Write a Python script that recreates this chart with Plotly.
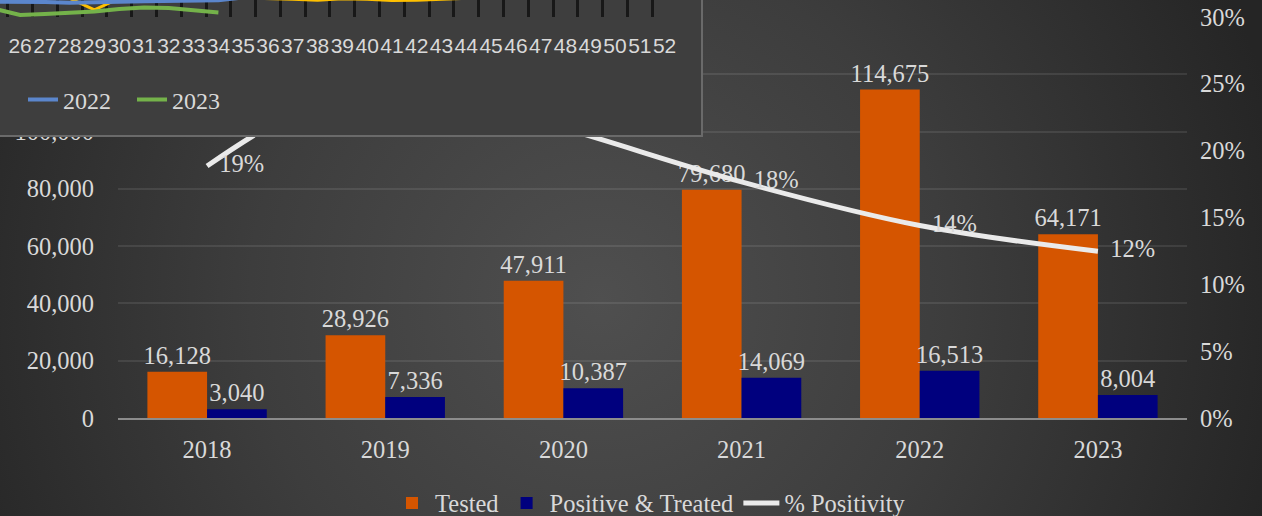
import base64
import plotly.graph_objects as go

# ---- main chart data -------------------------------------------------------
years = ["2018", "2019", "2020", "2021", "2022", "2023"]
tested = [16128, 28926, 47911, 79680, 114675, 64171]
positive_treated = [3040, 7336, 10387, 14069, 16513, 8004]
positivity = [0.1885, 0.2536, 0.2168, 0.1766, 0.1440, 0.1247]

left_ticks = [0, 20000, 40000, 60000, 80000, 100000, 120000, 140000]
right_ticks = [0, 0.05, 0.10, 0.15, 0.20, 0.25, 0.30]

# ---- weekly panel data (weeks 25-52) -----------------------------------------
weeks = list(range(25, 53))
week_labels = [str(w) for w in weeks]
weekly_2021 = [700, 690, 680, 660, 250, 660, 700, 720, 700, 690, 680, 660, 630,
               590, 640, 630, 585, 590, 640, 700, 740, 760, 780, 800, 790, 770,
               760, 740]
weekly_2022 = [540, 545, 530, 500, 505, 540, 560, 565, 570, 590, 690, 750, 800,
               820, 780, 760, 740, 720, 700, 690, 700, 710, 720, 740, 760, 770,
               750, 720]
weeks_2023 = list(range(25, 35))
weekly_2023 = [282, 71, 106, 141, 194, 282, 335, 318, 247, 159]

W, H = 1262, 516
ORANGE = "#D55500"
NAVY = "#00007E"
TXT = "#D9D9D9"
SERIF = "Liberation Serif, Times New Roman, serif"
SANS = "Liberation Sans, Arial, sans-serif"
FS = 24.5
NBSP = "\u00a0"


def fx(px):
    return px / W


def fy(py):
    return 1 - py / H


# soft radial backdrop
bg_svg = (
    f"<svg xmlns='http://www.w3.org/2000/svg' width='{W}' height='{H}'>"
    "<defs><radialGradient id='g' gradientUnits='userSpaceOnUse' "
    "cx='600' cy='300' r='700'>"
    "<stop offset='0' stop-color='#4f4f4f'/>"
    "<stop offset='0.5' stop-color='#3d3d3d'/>"
    "<stop offset='1' stop-color='#252525'/>"
    "</radialGradient></defs>"
    f"<rect width='{W}' height='{H}' fill='url(#g)'/></svg>"
)
bg_uri = "data:image/svg+xml;base64," + base64.b64encode(bg_svg.encode()).decode()

label_font = dict(family=SERIF, size=FS, color=TXT)

fig = go.Figure()

for name, values, colour in [("Tested", tested, ORANGE),
                             ("Positive & Treated", positive_treated, NAVY)]:
    fig.add_bar(
        x=years, y=values, name=name,
        marker=dict(color=colour, line=dict(width=0)),
        texttemplate="%{y:,}", textposition="outside", constraintext="none",
        cliponaxis=False, textfont=label_font, xaxis="x", yaxis="y",
    )

fig.add_scatter(
    x=years, y=positivity, name="% Positivity", mode="lines+text",
    line=dict(color="#EAEAEA", width=5, shape="spline", smoothing=1),
    texttemplate=NBSP * 2 + "%{y:.0%}", textposition="middle right",
    cliponaxis=False, textfont=label_font, xaxis="x", yaxis="y2",
)

# weekly panel: backing card (top and left edges run off the page)
fig.add_scatter(
    x=[-0.1, 1, 1, -0.1, -0.1], y=[0, 0, 1.2, 1.2, 0], mode="lines",
    fill="toself", fillcolor="#3E3E3E", line=dict(color="#6A6A6A", width=4),
    hoverinfo="skip", showlegend=False, xaxis="x2", yaxis="y3",
)
# weekly panel: series
fig.add_scatter(
    x=weeks, y=weekly_2021, name="2021", mode="lines",
    line=dict(color="#FFC000", width=3), showlegend=False,
    xaxis="x3", yaxis="y4", legend="legend2",
)
fig.add_scatter(
    x=weeks, y=weekly_2022, name="2022", mode="lines",
    line=dict(color="#5B86CC", width=4),
    xaxis="x3", yaxis="y4", legend="legend2",
)
fig.add_scatter(
    x=weeks_2023, y=weekly_2023, name="2023", mode="lines",
    line=dict(color="#74B24A", width=4),
    xaxis="x3", yaxis="y4", legend="legend2",
)

fig.update_layout(
    width=W, height=H,
    margin=dict(l=0, r=0, t=0, b=0, pad=0, autoexpand=False),
    font=dict(family=SERIF, size=FS, color=TXT),
    paper_bgcolor="#333333", plot_bgcolor="rgba(0,0,0,0)",
    hovermode=False,
    barmode="group", bargap=0.33, bargroupgap=0,
    images=[dict(source=bg_uri, xref="paper", yref="paper", x=0, y=1,
                 sizex=1, sizey=1, sizing="stretch", xanchor="left",
                 yanchor="top", layer="below")],
    xaxis=dict(
        domain=[fx(118), fx(1187)], anchor="y", type="category",
        showline=True, linecolor="#8C8C8C", linewidth=2, ticks="",
        showgrid=False, tickfont=label_font, automargin=False,
        ticklabelstandoff=9,
    ),
    yaxis=dict(
        domain=[fy(418), fy(17)], anchor="x", range=[0, 140000],
        tickvals=left_ticks, tickformat=",", showgrid=True,
        gridcolor="rgba(255,255,255,0.09)", gridwidth=1.5, zeroline=False,
        tickfont=label_font, automargin=False, ticklabelstandoff=23,
    ),
    yaxis2=dict(
        overlaying="y", side="right", anchor="x", range=[0, 0.30],
        tickvals=right_ticks, tickformat=".0%", showgrid=False,
        zeroline=False, tickfont=label_font, automargin=False,
        ticklabelstandoff=12,
    ),
    xaxis2=dict(domain=[0, fx(703)], anchor="y3", range=[0, 1],
                visible=False, automargin=False),
    yaxis3=dict(domain=[fy(137), 1], anchor="x2", range=[0, 1],
                visible=False, automargin=False),
    xaxis3=dict(
        domain=[0, fx(677)], anchor="y4", range=[25.19, 52.5],
        tickvals=weeks, ticktext=week_labels, tickangle=0, ticks="",
        showgrid=False, zeroline=False, showline=False, automargin=False,
        minor=dict(tick0=0.5, dtick=1, showgrid=True, gridcolor="#181818",
                   gridwidth=3, ticks=""),
        tickfont=dict(family=SANS, size=21, color=TXT),
        ticklabelstandoff=14,
    ),
    yaxis4=dict(domain=[fy(17), 1], anchor="x3", range=[0, 600],
                visible=False, automargin=False),
    legend=dict(
        orientation="h", x=fx(650), xanchor="center", y=fy(503),
        yanchor="middle", bgcolor="rgba(0,0,0,0)", itemwidth=36,
        font=dict(family=SERIF, size=FS, color=TXT),
        traceorder="normal",
    ),
    legend2=dict(
        orientation="h", x=fx(23), xanchor="left", y=fy(100),
        yanchor="middle", bgcolor="rgba(0,0,0,0)", entrywidth=64,
        font=dict(family=SERIF, size=24, color=TXT),
    ),
)

fig.write_html("out.html")
